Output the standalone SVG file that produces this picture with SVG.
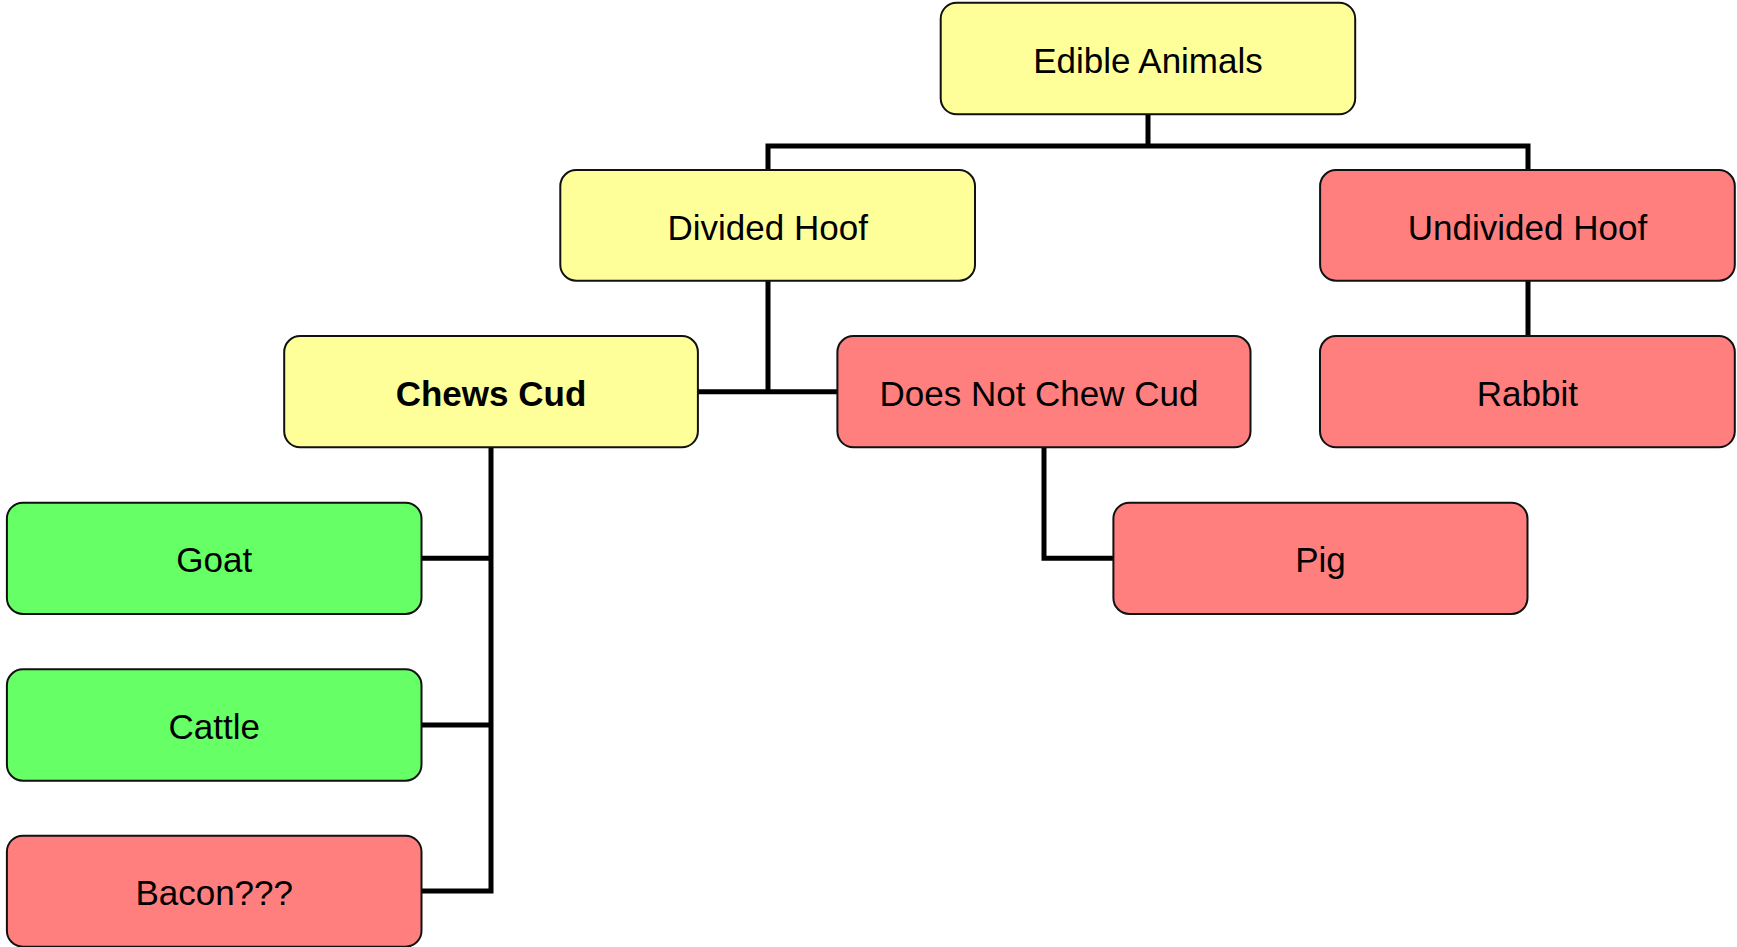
<svg xmlns="http://www.w3.org/2000/svg" width="1737" height="947" viewBox="0 0 1737 947">
<style>
.box{stroke:#111;stroke-width:2}
.y{fill:#FFFF99}
.r{fill:#FF7F7F}
.g{fill:#66FF66}
.t{font-family:"Liberation Sans",Arial,sans-serif;font-size:35px;fill:#000;text-anchor:middle}
.b{font-weight:bold}
.c{fill:none;stroke:#000;stroke-width:5;stroke-linejoin:miter}
</style>
<rect width="1737" height="947" fill="#fff"/>
<g id="connectors">
<path class="c" d="M1148,114 V146 M768,170 V146 H1528 V170"/>
<path class="c" d="M768,281 V391.7 M698,391.7 H837.4"/>
<path class="c" d="M1528,281 V336"/>
<path class="c" d="M491,447.3 V891 H422 M422,558.3 H491 M422,725 H491"/>
<path class="c" d="M1044,447.3 V558.3 H1113.4"/>
</g>
<g id="edible"><rect class="box y" x="940.7" y="2.7" width="414.5" height="111.6" rx="16"/><text class="t" x="1148" y="72.5">Edible Animals</text></g>
<g id="divided"><rect class="box y" x="560.3" y="170" width="414.7" height="110.7" rx="16"/><text class="t" x="767.7" y="239.5">Divided Hoof</text></g>
<g id="undivided"><rect class="box r" x="1320.1" y="170" width="414.7" height="110.7" rx="16"/><text class="t" x="1527.5" y="239.5">Undivided Hoof</text></g>
<g id="chews"><rect class="box y" x="284.2" y="336" width="413.7" height="111.3" rx="16"/><text class="t b" x="491" y="405.5">Chews Cud</text></g>
<g id="doesnot"><rect class="box r" x="837.4" y="336" width="413.1" height="111.3" rx="16"/><text class="t" x="1039" y="405.5">Does Not Chew Cud</text></g>
<g id="rabbit"><rect class="box r" x="1320" y="336" width="414.8" height="111.3" rx="16"/><text class="t" x="1527.4" y="405.5">Rabbit</text></g>
<g id="goat"><rect class="box g" x="6.9" y="502.7" width="414.6" height="111.3" rx="16"/><text class="t" x="214.2" y="572">Goat</text></g>
<g id="pig"><rect class="box r" x="1113.4" y="502.7" width="414.1" height="111.3" rx="16"/><text class="t" x="1320.5" y="572">Pig</text></g>
<g id="cattle"><rect class="box g" x="6.9" y="669.3" width="414.6" height="111.4" rx="16"/><text class="t" x="214.2" y="738.5">Cattle</text></g>
<g id="bacon"><rect class="box r" x="6.9" y="835.7" width="414.6" height="111" rx="16"/><text class="t" x="214.2" y="905">Bacon???</text></g>
</svg>
